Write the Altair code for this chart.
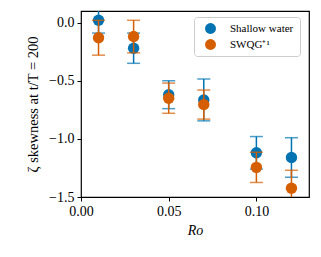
import altair as alt
import pandas as pd

ro = [0.01, 0.03, 0.05, 0.07, 0.10, 0.12]
series = ["Shallow water", "SWQG⁺¹"]
sw_mean = [0.02, -0.22, -0.62, -0.665, -1.12, -1.16]
sw_err = [0.11, 0.13, 0.12, 0.18, 0.14, 0.17]
qg_mean = [-0.13, -0.12, -0.65, -0.705, -1.245, -1.425]
qg_err = [0.15, 0.14, 0.13, 0.125, 0.13, 0.155]
colors = ["#0173B2", "#D55E00"]

rows = []
for name, means, errs in [(series[0], sw_mean, sw_err), (series[1], qg_mean, qg_err)]:
    for x, m, e in zip(ro, means, errs):
        rows.append({"Ro": x, "val": m, "lo": m - e, "hi": m + e, "series": name})
df = pd.DataFrame(rows)

font = "Liberation Serif"
xs = alt.Scale(domain=[0, 0.13], nice=False, zero=False, padding=0)
ys = alt.Scale(domain=[-1.5, 0.1], nice=False, zero=False, padding=0)
col = alt.Color("series:N", scale=alt.Scale(domain=series, range=colors),
                legend=alt.Legend(title=None, orient="none", legendX=113, legendY=6,
                                  fillColor="white", strokeColor="#cccccc", padding=6,
                                  cornerRadius=3, labelFont=font, labelFontSize=11,
                                  symbolType="circle", symbolSize=120, rowPadding=4,
                                  symbolOffset=5, labelOffset=14,
                                  symbolStrokeWidth=0, symbolOpacity=1))

layers = []
for name in series:
    d = df[df.series == name]
    base = alt.Chart(d)
    rule = base.mark_rule(strokeWidth=1.5, clip=True).encode(
        x=alt.X("Ro:Q", scale=xs), y=alt.Y("lo:Q", scale=ys), y2="hi:Q", color=col)
    capl = base.mark_tick(orient="horizontal", size=13, thickness=1.5, clip=True).encode(
        x=alt.X("Ro:Q", scale=xs), y=alt.Y("lo:Q", scale=ys), color=col)
    caph = base.mark_tick(orient="horizontal", size=13, thickness=1.5, clip=True).encode(
        x=alt.X("Ro:Q", scale=xs), y=alt.Y("hi:Q", scale=ys), color=col)
    pts = base.mark_circle(size=130, opacity=1, clip=True).encode(
        x=alt.X("Ro:Q", scale=xs,
                axis=alt.Axis(title="Ro", values=[0, 0.05, 0.1], format=".2f",
                              titleFontStyle="italic", labelFlush=False)),
        y=alt.Y("val:Q", scale=ys,
                axis=alt.Axis(title="ζ skewness at t/T = 200", values=[-1.5, -1.0, -0.5, 0.0],
                              format=".1f", labelFlush=False)),
        color=col)
    layers += [rule, capl, caph, pts]

chart = alt.layer(*layers).properties(
    width=228, height=186,
    autosize=alt.AutoSizeParams(type="none"),
    padding={"left": 73, "top": 3, "right": 4, "bottom": 52},
).configure_view(stroke="black", strokeWidth=1.2).configure_axis(
    grid=False, domain=False, tickColor="black", tickSize=4, tickWidth=1,
    labelFont=font, labelFontSize=14, labelColor="black", labelPadding=3,
    titleFont=font, titleFontSize=14, titleColor="black", titleFontWeight="normal",
).configure_axisX(titlePadding=5).configure_axisY(titlePadding=8, titleFontSize=14.5)

chart.save("out.html", embed_options={"renderer": "svg", "actions": False})
